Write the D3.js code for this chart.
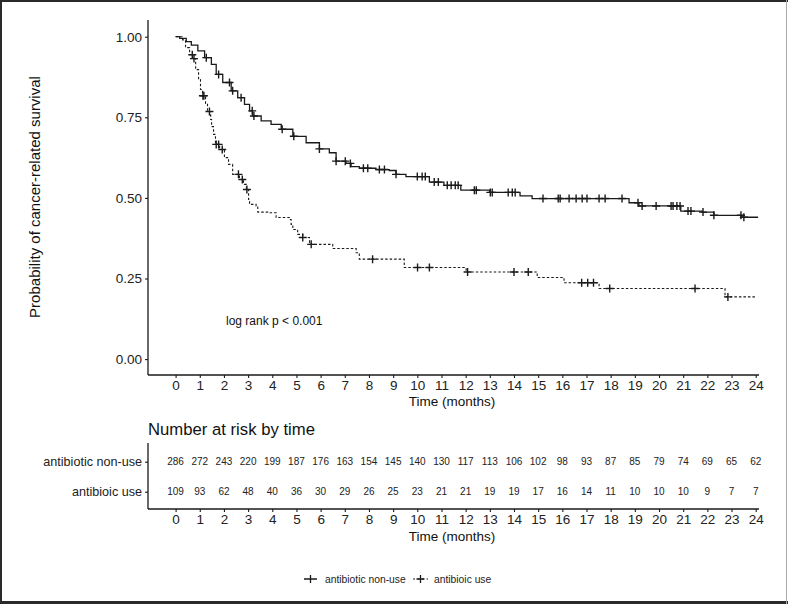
<!DOCTYPE html>
<html>
<head>
<meta charset="utf-8">
<script src="https://cdn.jsdelivr.net/npm/d3@7"></script>
<style>
  html, body { margin: 0; padding: 0; background: #fff; }
  svg { display: block; font-family: "Liberation Sans", Arial, sans-serif; }
</style>
</head>
<body>
<svg id="km" width="788" height="604"></svg>
<script>
// KM step points (time in months, survival)
const nonUseTime = [0, 0.17, 0.44, 0.65, 0.92, 1.20, 1.48, 1.68, 1.95, 2.30, 2.57, 2.85, 3.06, 3.19, 3.54, 3.95, 4.37, 4.85, 5.40, 5.95, 6.36, 6.64, 7.05, 7.26, 7.60, 8.29, 8.84, 9.12, 9.53, 10.5, 11.1, 11.8, 13.0, 14.25, 14.75, 18.76, 19.17, 20.9, 21.78, 22.27, 23.43, 24.1];
const nonUseSurv = [1.0, 0.995, 0.985, 0.974, 0.956, 0.935, 0.914, 0.883, 0.858, 0.832, 0.811, 0.790, 0.770, 0.754, 0.739, 0.728, 0.713, 0.691, 0.671, 0.652, 0.640, 0.614, 0.607, 0.597, 0.592, 0.588, 0.585, 0.573, 0.566, 0.549, 0.539, 0.524, 0.517, 0.506, 0.498, 0.485, 0.475, 0.459, 0.456, 0.446, 0.440, 0.440];
const nonUseCensor = [1.27, 1.78, 2.23, 2.36, 2.71, 3.17, 3.24, 4.41, 4.89, 5.95, 6.64, 7.02, 7.23, 7.77, 7.95, 8.43, 8.64, 9.12, 10.0, 10.2, 10.33, 10.70, 10.87, 11.24, 11.40, 11.57, 11.69, 12.36, 12.44, 13.02, 13.1, 13.76, 13.93, 14.05, 15.2, 15.83, 15.91, 16.28, 16.57, 16.82, 17.02, 17.52, 17.77, 18.47, 19.13, 19.30, 19.88, 20.50, 20.58, 20.74, 20.87, 21.20, 21.32, 21.82, 22.27, 23.39, 23.51];

const useTime = [0, 0.29, 0.41, 0.58, 0.70, 0.83, 0.95, 1.03, 1.12, 1.24, 1.32, 1.45, 1.49, 1.57, 1.65, 1.82, 2.02, 2.19, 2.36, 2.64, 2.81, 2.93, 3.02, 3.06, 3.33, 3.40, 3.81, 4.16, 4.71, 4.78, 4.85, 5.05, 5.26, 5.54, 5.61, 6.50, 7.47, 7.60, 9.46, 12.02, 14.96, 16.07, 17.52, 22.73, 24.05];
const useSurv = [1.0, 0.99, 0.966, 0.944, 0.932, 0.898, 0.867, 0.836, 0.817, 0.793, 0.768, 0.743, 0.721, 0.697, 0.666, 0.650, 0.625, 0.604, 0.573, 0.557, 0.542, 0.526, 0.495, 0.480, 0.475, 0.456, 0.454, 0.439, 0.433, 0.418, 0.402, 0.387, 0.377, 0.361, 0.356, 0.343, 0.330, 0.310, 0.284, 0.270, 0.253, 0.237, 0.219, 0.193, 0.193];
const useCensor = [0.69, 0.76, 1.13, 1.17, 1.40, 1.68, 1.78, 1.93, 2.60, 2.76, 2.95, 5.26, 5.61, 8.15, 10.01, 10.50, 12.08, 14.0, 14.59, 16.80, 17.05, 17.29, 17.96, 21.49, 22.85];

const months = d3.range(0, 25);
const yTicks = [0, 0.25, 0.5, 0.75, 1.0];
const groups = ["antibiotic non-use", "antibioic use"];
const riskNonUse = [286, 272, 243, 220, 199, 187, 176, 163, 154, 145, 140, 130, 117, 113, 106, 102, 98, 93, 87, 85, 79, 74, 69, 65, 62];
const riskUse = [109, 93, 62, 48, 40, 36, 30, 29, 26, 25, 23, 21, 21, 19, 19, 17, 16, 14, 11, 10, 10, 10, 9, 7, 7];

const svg = d3.select('#km');
const ink = '#1a1a1a';

// frame around the picture
svg.append('line').attr('x1', 1).attr('x2', 1).attr('y1', 0).attr('y2', 604).attr('stroke', '#2a2a2a').attr('stroke-width', 2);
svg.append('line').attr('x1', 0).attr('x2', 788).attr('y1', 1).attr('y2', 1).attr('stroke', '#2a2a2a').attr('stroke-width', 2);
svg.append('line').attr('x1', 0).attr('x2', 788).attr('y1', 602.5).attr('y2', 602.5).attr('stroke', '#2a2a2a').attr('stroke-width', 3);
svg.append('line').attr('x1', 786.5).attr('x2', 786.5).attr('y1', 0).attr('y2', 604).attr('stroke', '#aaa').attr('stroke-width', 1);

const x = d3.scaleLinear().domain([0, 24]).range([175.6, 755.7]);
const y = d3.scaleLinear().domain([0, 1]).range([359.1, 36.7]);

const axisLeftX = 148;
const axisBottomY = 375;

// y axis
const gy = svg.append('g').attr('transform', `translate(${axisLeftX},0)`)
  .call(d3.axisLeft(y).tickValues(yTicks).tickFormat(d3.format('.2f')).tickSize(3).tickPadding(3));
gy.select('.domain').attr('d', `M0,20V${axisBottomY}`);

// x axis
const gx = svg.append('g').attr('transform', `translate(0,${axisBottomY})`)
  .call(d3.axisBottom(x).tickValues(months).tickFormat(d3.format('d')).tickSize(3).tickPadding(2));
gx.select('.domain').attr('d', `M${axisLeftX},0H759`);

[gx, gy].forEach(g => {
  g.select('.domain').attr('stroke', ink).attr('stroke-width', 1.3);
  g.selectAll('.tick line').attr('stroke', ink).attr('stroke-width', 1.1);
  g.selectAll('.tick text').attr('fill', '#222').attr('font-size', 13.5).attr('font-family', '"Liberation Sans", Arial, sans-serif');
});

svg.append('text').attr('x', 452).attr('y', 406).attr('text-anchor', 'middle')
  .attr('font-size', 13.5).attr('fill', '#111').text('Time (months)');

svg.append('text').attr('transform', 'translate(40,197) rotate(-90)').attr('text-anchor', 'middle')
  .attr('font-size', 15).attr('fill', '#111').text('Probability of cancer-related survival');

svg.append('text').attr('x', 226).attr('y', 325).attr('font-size', 12).attr('fill', '#111').text('log rank p < 0.001');

// curves
const step = d3.line().x(d => x(d[0])).y(d => y(d[1])).curve(d3.curveStepAfter);
const series = [
  { t: nonUseTime, s: nonUseSurv, c: nonUseCensor, dash: null },
  { t: useTime, s: useSurv, c: useCensor, dash: '2.5,2' }
];

function survAt(sr, t) {
  let v = sr.s[0];
  for (let i = 0; i < sr.t.length; i++) { if (sr.t[i] <= t) v = sr.s[i]; }
  return v;
}

series.forEach(sr => {
  svg.append('path').datum(sr.t.map((t, i) => [t, sr.s[i]]))
    .attr('d', step).attr('fill', 'none').attr('stroke', ink)
    .attr('stroke-width', sr.dash ? 1.1 : 1.3)
    .attr('stroke-dasharray', sr.dash);
  svg.append('g').selectAll('path').data(sr.c).enter().append('path')
    .attr('d', t => {
      const cx = x(t), cy = y(survAt(sr, t));
      return `M${cx - 4},${cy}H${cx + 4}M${cx},${cy - 4}V${cy + 4}`;
    })
    .attr('stroke', ink).attr('stroke-width', 1.4).attr('fill', 'none');
});

// risk table
svg.append('text').attr('x', 148).attr('y', 435).attr('font-size', 16.7).attr('fill', '#111').text('Number at risk by time');

const tableBottomY = 509;
const yRow = d3.scalePoint().domain(groups).range([461.7, 491.7]);
const gty = svg.append('g').attr('transform', `translate(${axisLeftX},0)`)
  .call(d3.axisLeft(yRow).tickSize(3).tickPadding(3));
gty.select('.domain').attr('d', `M0,443V${tableBottomY}`);
const gtx = svg.append('g').attr('transform', `translate(0,${tableBottomY})`)
  .call(d3.axisBottom(x).tickValues(months).tickFormat(d3.format('d')).tickSize(3).tickPadding(2));
gtx.select('.domain').attr('d', `M${axisLeftX},0H759`);
[gtx, gty].forEach(g => {
  g.select('.domain').attr('stroke', ink).attr('stroke-width', 1.3);
  g.selectAll('.tick line').attr('stroke', ink).attr('stroke-width', 1.1);
  g.selectAll('.tick text').attr('fill', '#222').attr('font-size', 13.5).attr('font-family', '"Liberation Sans", Arial, sans-serif');
});
gty.selectAll('.tick text').attr('font-size', 12.6);

svg.append('text').attr('x', 452).attr('y', 541).attr('text-anchor', 'middle')
  .attr('font-size', 13.5).attr('fill', '#111').text('Time (months)');

[[groups[0], riskNonUse], [groups[1], riskUse]].forEach(([g, vals]) => {
  svg.append('g').selectAll('text').data(vals).enter().append('text')
    .attr('x', (d, i) => x(months[i])).attr('y', yRow(g) + 3.5)
    .attr('text-anchor', 'middle').attr('font-size', 10).attr('fill', '#222')
    .text(d => d);
});

// legend
const lg = svg.append('g');
lg.append('path').attr('d', 'M304,579H317M310.5,575V583').attr('stroke', ink).attr('stroke-width', 1.3);
lg.append('text').attr('x', 325).attr('y', 582.5).attr('font-size', 10.3).attr('fill', '#222').text(groups[0]);
lg.append('path').attr('d', 'M413,579H428').attr('stroke', ink).attr('stroke-width', 1.1).attr('stroke-dasharray', '2,2.5');
lg.append('path').attr('d', 'M416.5,579H424.5M420.5,575V583').attr('stroke', ink).attr('stroke-width', 1.3);
lg.append('text').attr('x', 434).attr('y', 582.5).attr('font-size', 10.3).attr('fill', '#222').text(groups[1]);
</script>
</body>
</html>
